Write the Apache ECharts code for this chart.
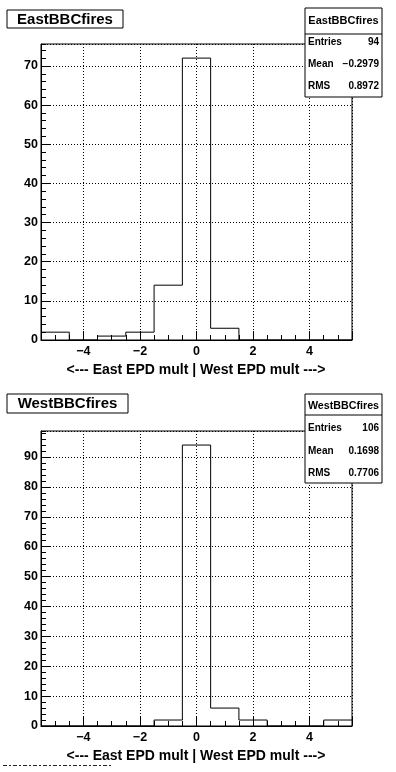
<!DOCTYPE html>
<html>
<head>
<meta charset="utf-8">
<script src="https://cdn.jsdelivr.net/npm/echarts@6/dist/echarts.min.js"></script>
<style>
html,body{margin:0;padding:0;background:#fff;}
#c{width:396px;height:772px;}
</style>
</head>
<body>
<div id="c"></div>
<script>
// ---- data ----
var binCenters = [-5, -4, -3, -2, -1, 0, 1, 2, 3, 4, 5];
var eastCounts = [2, 0, 1, 2, 14, 72, 3, 0, 0, 0, 0];
var westCounts = [0, 0, 0, 0, 2, 94, 6, 2, 0, 0, 2];
var xTickLabels = [-4, -2, 0, 2, 4];
var eastStats = [['Entries', '94'], ['Mean', '\u22120.2979'], ['RMS', '0.8972']];
var westStats = [['Entries', '106'], ['Mean', '0.1698'], ['RMS', '0.7706']];
var xTitle = '<--- East EPD mult | West EPD mult --->';

var FONT = '"Liberation Sans", Arial, Helvetica, sans-serif';
var binWidth = 1;

function stepData(counts) {
  var d = [];
  for (var i = 0; i < binCenters.length; i++) d.push([binCenters[i] - binWidth / 2, counts[i]]);
  d.push([binCenters[binCenters.length - 1] + binWidth / 2, counts[counts.length - 1]]);
  return d;
}
function fmtNum(v) {
  var s = String(Math.abs(v));
  return v < 0 ? '\u2212' + s : s;
}

var chart = echarts.init(document.getElementById('c'), null, {renderer: 'canvas'});

var grids = [
  {left: 41, top: 44, width: 311, height: 296, show: true, borderColor: '#000', borderWidth: 1, backgroundColor: 'transparent'},
  {left: 41, top: 431, width: 311, height: 295, show: true, borderColor: '#000', borderWidth: 1, backgroundColor: 'transparent'}
];
var yMax = [75.6, 98.7];

var xAxes = [], yAxes = [];
for (var g = 0; g < 2; g++) {
  xAxes.push({
    type: 'value', gridIndex: g, position: 'bottom', min: -5.5, max: 5.5, minInterval: 2, maxInterval: 2, splitNumber: 5,
    axisLine: {show: true, onZero: false, lineStyle: {color: '#000', width: 1}},
    axisTick: {show: true, inside: true, length: 9, lineStyle: {color: '#000', width: 1}},
    axisLabel: {
      show: true, margin: 5, color: '#000', fontSize: 12.5, fontWeight: 'bold', fontFamily: FONT,
      formatter: function (v) { return xTickLabels.indexOf(Math.round(v * 1000) / 1000) >= 0 ? fmtNum(v) : ''; }
    },
    splitLine: {show: true, lineStyle: {color: '#000', width: 1, type: [1, 2]}}
  });
  xAxes.push({
    type: 'value', gridIndex: g, position: 'bottom', min: -5.5, max: 5.5, interval: 0.5,
    axisLine: {show: false, onZero: false}, axisLabel: {show: false}, splitLine: {show: false},
    axisTick: {show: true, inside: true, length: 5, lineStyle: {color: '#000', width: 1}}
  });
  yAxes.push({
    type: 'value', gridIndex: g, position: 'left', min: 0, max: yMax[g], interval: 10,
    axisLine: {show: true, onZero: false, lineStyle: {color: '#000', width: 1}},
    axisTick: {show: true, inside: true, length: 9, lineStyle: {color: '#000', width: 1}},
    axisLabel: {
      show: true, margin: 3, color: '#000', fontSize: 12.5, fontWeight: 'bold', fontFamily: FONT,
      showMaxLabel: false,
      formatter: function (v) { return (Math.abs(v % 10) < 1e-6) ? String(v) : ''; }
    },
    splitLine: {show: true, lineStyle: {color: '#000', width: 1, type: [1, 2]}}
  });
  yAxes.push({
    type: 'value', gridIndex: g, position: 'left', min: 0, max: yMax[g], interval: 2,
    axisLine: {show: false, onZero: false}, axisLabel: {show: false}, splitLine: {show: false},
    axisTick: {show: true, inside: true, length: 5, lineStyle: {color: '#000', width: 1}}
  });
}

function statsBox(top, title, rows, sepY, rowYs, titleY, titleSize) {
  var els = [
    {type: 'rect', shape: {x: 305, y: top, width: 77, height: 89}, style: {fill: '#fff', stroke: '#000', lineWidth: 1}, z: 10},
    {type: 'line', shape: {x1: 305, y1: sepY, x2: 382, y2: sepY}, style: {stroke: '#000', lineWidth: 1}, z: 11},
    {type: 'text', x: 343.5, y: titleY, style: {text: title, fill: '#000', font: 'bold ' + titleSize + 'px ' + FONT, align: 'center', verticalAlign: 'middle'}, z: 11}
  ];
  for (var i = 0; i < rows.length; i++) {
    els.push({type: 'text', x: 308, y: rowYs[i], style: {text: rows[i][0], fill: '#000', font: 'bold 10px ' + FONT, align: 'left', verticalAlign: 'middle'}, z: 11});
    els.push({type: 'text', x: 379, y: rowYs[i], style: {text: rows[i][1], fill: '#000', font: 'bold 10px ' + FONT, align: 'right', verticalAlign: 'middle'}, z: 11});
  }
  return els;
}

var graphics = [
  {type: 'rect', shape: {x: 7, y: 10, width: 116, height: 18}, style: {fill: '#fff', stroke: '#000', lineWidth: 1}, z: 10},
  {type: 'text', x: 65, y: 19.5, style: {text: 'EastBBCfires', fill: '#000', font: 'bold 15px ' + FONT, align: 'center', verticalAlign: 'middle'}, z: 11},
  {type: 'rect', shape: {x: 7, y: 394, width: 121, height: 19}, style: {fill: '#fff', stroke: '#000', lineWidth: 1}, z: 10},
  {type: 'text', x: 67.5, y: 404, style: {text: 'WestBBCfires', fill: '#000', font: 'bold 15px ' + FONT, align: 'center', verticalAlign: 'middle'}, z: 11},
  {type: 'text', x: 196, y: 370, style: {text: xTitle, fill: '#000', font: 'bold 14px ' + FONT, align: 'center', verticalAlign: 'middle'}, z: 11},
  {type: 'text', x: 196, y: 756, style: {text: xTitle, fill: '#000', font: 'bold 14px ' + FONT, align: 'center', verticalAlign: 'middle'}, z: 11},
  {type: 'line', shape: {x1: 3, y1: 765.5, x2: 112, y2: 765.5}, style: {stroke: '#222', lineWidth: 1, lineDash: [4, 2, 2, 2]}, z: 11}
].concat(
  statsBox(8, 'EastBBCfires', eastStats, 34, [42.3, 64.3, 86.5], 20.5, 11),
  statsBox(394, 'WestBBCfires', westStats, 415, [428.3, 451.7, 473.3], 406, 10.7)
);

chart.setOption({
  animation: false,
  backgroundColor: '#fff',
  grid: grids,
  xAxis: xAxes,
  yAxis: yAxes,
  graphic: graphics,
  series: [
    {type: 'line', xAxisIndex: 0, yAxisIndex: 0, step: 'end', data: stepData(eastCounts), symbol: 'none',
      lineStyle: {color: '#000', width: 1}, z: 5, silent: true},
    {type: 'line', xAxisIndex: 2, yAxisIndex: 2, step: 'end', data: stepData(westCounts), symbol: 'none',
      lineStyle: {color: '#000', width: 1}, z: 5, silent: true}
  ]
});
</script>
</body>
</html>
